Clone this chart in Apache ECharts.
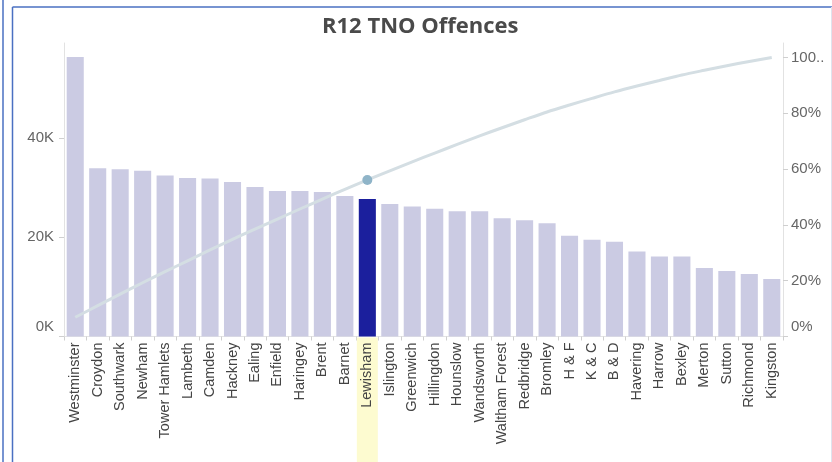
<!DOCTYPE html>
<html>
<head>
<meta charset="utf-8">
<script src="https://cdn.jsdelivr.net/npm/echarts@6/dist/echarts.min.js"></script>
<style>
html,body{margin:0;padding:0;background:#fff;}
#c{width:832px;height:462px;}
</style>
</head>
<body>
<div id="c"></div>
<script>
// ---- data ----
const title = 'R12 TNO Offences';
const boroughs = ['Westminster','Croydon','Southwark','Newham','Tower Hamlets','Lambeth','Camden','Hackney','Ealing','Enfield','Haringey','Brent','Barnet','Lewisham','Islington','Greenwich','Hillingdon','Hounslow','Wandsworth','Waltham Forest','Redbridge','Bromley','H & F','K & C','B & D','Havering','Harrow','Bexley','Merton','Sutton','Richmond','Kingston'];
const offences = [56300,33900,33700,33400,32400,31900,31800,31100,30100,29300,29300,29100,28300,27700,26700,26200,25700,25200,25200,23800,23400,22800,20300,19500,19100,17100,16100,16100,13800,13200,12600,11600];
const cumulativePct = [6.89,11.04,15.17,19.26,23.23,27.13,31.03,34.84,38.52,42.11,45.70,49.26,52.72,56.12,59.39,62.59,65.74,68.83,71.91,74.83,77.69,80.48,82.97,85.36,87.69,89.79,91.76,93.73,95.42,97.04,98.58,100];
const leftTicks = [0,20000,40000];
const rightTicks = [0,20,40,60,80,100];
const highlight = 'Lewisham';

const barLight = '#cbcbe3';
const barDark = '#1b1f9d';

const chart = echarts.init(document.getElementById('c'), null, {renderer:'canvas'});
const option = {
  animation: false,
  backgroundColor: '#fff',
  title: {
    text: title,
    left: 317, top: 11,
    textStyle: {fontFamily: 'Open Sans', fontWeight: 'bold', fontSize: 22, color: '#4a4a4a'}
  },
  graphic: [
    {type:'line', shape:{x1:3,y1:0,x2:3,y2:462}, style:{stroke:'#4a70c2', lineWidth:1.5}, silent:true},
    {type:'line', shape:{x1:12.5,y1:7,x2:12.5,y2:462}, style:{stroke:'#4a70c2', lineWidth:1.5}, silent:true},
    {type:'line', shape:{x1:12.5,y1:7,x2:832,y2:7}, style:{stroke:'#4a70c2', lineWidth:1.5}, silent:true},
    {type:'line', shape:{x1:831.5,y1:7,x2:831.5,y2:462}, style:{stroke:'#dfe3ee', lineWidth:1}, silent:true}
  ],
  grid: {left: 64, right: 49, top: 43, bottom: 125.5, containLabel: false, outerBoundsMode: 'none'},
  xAxis: {
    type: 'category',
    data: boroughs,
    axisLine: {show: true, lineStyle: {color: '#e4e4e4'}},
    axisTick: {show: true, interval: 0, length: 4, lineStyle: {color: '#cfcfcf'}},
    axisLabel: {
      interval: 0, rotate: 90, margin: 1,
      fontFamily: 'Liberation Sans', fontSize: 14.5, color: '#444',
      formatter: v => v === highlight ? '{hl|' + v + '}' : '{n|' + v + '}',
      rich: {
        n: {fontFamily: 'Liberation Sans', fontSize: 14.5, color: '#444', padding: [3, 5, 3, 0]},
        hl: {fontFamily: 'Liberation Sans', fontSize: 14.5, color: '#444', padding: [3, 5, 3, 60], backgroundColor: '#fdfbd0'}
      }
    }
  },
  yAxis: [
    {
      type: 'value', position: 'left', min: 0, max: 59100,
      axisLine: {show: true, lineStyle: {color: '#e2e2e2'}},
      axisTick: {show: true, length: 5, customValues: leftTicks, lineStyle: {color: '#cfcfcf'}},
      splitLine: {show: false},
      axisLabel: {
        customValues: leftTicks, margin: 10,
        fontFamily: 'Liberation Sans', fontSize: 15, color: '#666',
        formatter: v => v === 0 ? '{z|0K}' : '{n|' + (v / 1000) + 'K}',
        rich: {
          z: {fontFamily: 'Liberation Sans', fontSize: 15, color: '#666', padding: [0, 0, 20, 0]},
          n: {fontFamily: 'Liberation Sans', fontSize: 15, color: '#666'}
        }
      }
    },
    {
      type: 'value', position: 'right', min: 0, max: 105.2,
      axisLine: {show: true, lineStyle: {color: '#e2e2e2'}},
      axisTick: {show: true, length: 5, customValues: rightTicks, lineStyle: {color: '#cfcfcf'}},
      splitLine: {show: false},
      axisLabel: {
        customValues: rightTicks, margin: 8,
        fontFamily: 'Liberation Sans', fontSize: 15, color: '#666',
        formatter: v => v === 0 ? '{z|0%}' : (v === 100 ? '{n|100..}' : '{n|' + v + '%}'),
        rich: {
          z: {fontFamily: 'Liberation Sans', fontSize: 15, color: '#666', padding: [0, 0, 20, 0]},
          n: {fontFamily: 'Liberation Sans', fontSize: 15, color: '#666'}
        }
      }
    }
  ],
  series: [
    {
      type: 'bar', yAxisIndex: 0, barCategoryGap: '24%',
      data: offences.map((v, i) => ({value: v, itemStyle: {color: boroughs[i] === highlight ? barDark : barLight}})),
      z: 2
    },
    {
      type: 'line', yAxisIndex: 1, smooth: 0.3, symbol: 'none',
      lineStyle: {color: '#d4dee3', width: 3},
      data: cumulativePct.map((v, i) => boroughs[i] === highlight
        ? {value: v, symbol: 'circle', symbolSize: 10, itemStyle: {color: '#8fb4c8', borderWidth: 0}}
        : {value: v}),
      z: 3
    }
  ]
};
chart.setOption(option);
</script>
</body>
</html>
